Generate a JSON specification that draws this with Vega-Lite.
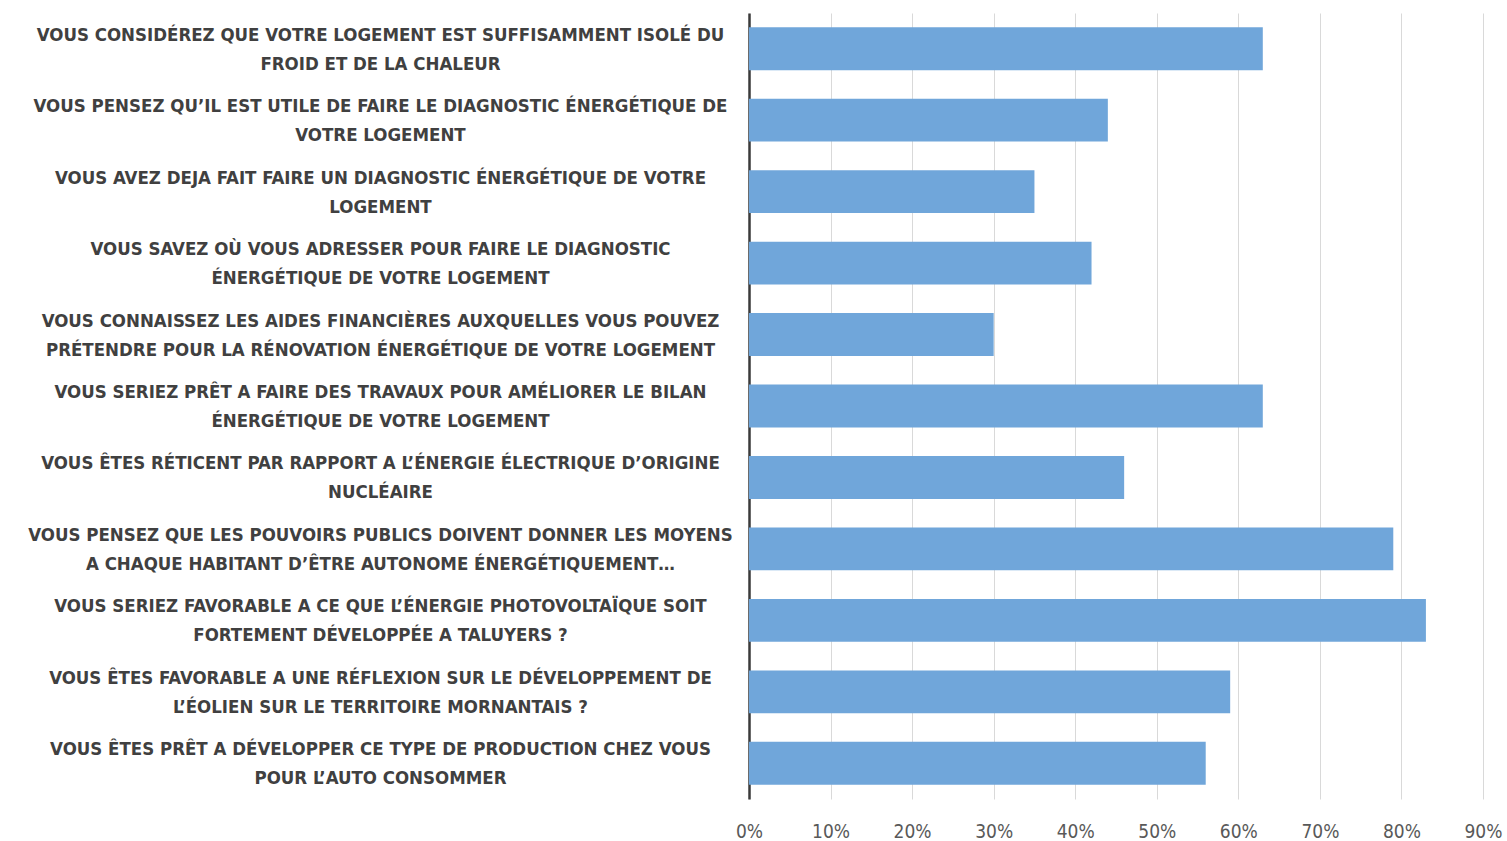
{
  "$schema": "https://vega.github.io/schema/vega-lite/v6.json",
  "autosize": {"type": "none"},
  "padding": {"left": 749, "top": 13, "right": 24, "bottom": 42},
  "width": 734,
  "height": 786,
  "background": "white",
  "config": {"view": {"stroke": null}},
  "data": {
    "values": [
      {"question": "VOUS CONSIDÉREZ QUE VOTRE LOGEMENT EST SUFFISAMMENT ISOLÉ DU|FROID ET DE LA CHALEUR", "pct": 0.63},
      {"question": "VOUS PENSEZ QU’IL EST UTILE DE FAIRE LE DIAGNOSTIC ÉNERGÉTIQUE DE|VOTRE LOGEMENT", "pct": 0.44},
      {"question": "VOUS AVEZ DEJA FAIT FAIRE UN DIAGNOSTIC ÉNERGÉTIQUE DE VOTRE|LOGEMENT", "pct": 0.35},
      {"question": "VOUS SAVEZ OÙ VOUS ADRESSER POUR FAIRE LE DIAGNOSTIC|ÉNERGÉTIQUE DE VOTRE LOGEMENT", "pct": 0.42},
      {"question": "VOUS CONNAISSEZ LES AIDES FINANCIÈRES AUXQUELLES VOUS POUVEZ|PRÉTENDRE POUR LA RÉNOVATION ÉNERGÉTIQUE DE VOTRE LOGEMENT", "pct": 0.30},
      {"question": "VOUS SERIEZ PRÊT A FAIRE DES TRAVAUX POUR AMÉLIORER LE BILAN|ÉNERGÉTIQUE DE VOTRE LOGEMENT", "pct": 0.63},
      {"question": "VOUS ÊTES RÉTICENT PAR RAPPORT A L’ÉNERGIE ÉLECTRIQUE D’ORIGINE|NUCLÉAIRE", "pct": 0.46},
      {"question": "VOUS PENSEZ QUE LES POUVOIRS PUBLICS DOIVENT DONNER LES MOYENS|A CHAQUE HABITANT D’ÊTRE AUTONOME ÉNERGÉTIQUEMENT…", "pct": 0.79},
      {"question": "VOUS SERIEZ FAVORABLE A CE QUE L’ÉNERGIE PHOTOVOLTAÏQUE SOIT|FORTEMENT DÉVELOPPÉE A TALUYERS ?", "pct": 0.83},
      {"question": "VOUS ÊTES FAVORABLE A UNE RÉFLEXION SUR LE DÉVELOPPEMENT DE|L’ÉOLIEN SUR LE TERRITOIRE MORNANTAIS ?", "pct": 0.59},
      {"question": "VOUS ÊTES PRÊT A DÉVELOPPER CE TYPE DE PRODUCTION CHEZ VOUS|POUR L’AUTO CONSOMMER", "pct": 0.56}
    ]
  },
  "mark": {"type": "bar", "color": "#70a6da"},
  "encoding": {
    "y": {
      "field": "question",
      "type": "nominal",
      "sort": null,
      "title": null,
      "scale": {"paddingInner": 0.4, "paddingOuter": 0.2},
      "axis": {
        "labelExpr": "split(datum.label, '|')",
        "labelAlign": "center",
        "labelPadding": 369,
        "labelOffset": -14,
        "labelLimit": 0,
        "labelFont": "DejaVu Sans Condensed",
        "labelFontSize": 18.5,
        "labelFontWeight": "bold",
        "labelColor": "#404040",
        "labelLineHeight": 29,
        "ticks": false,
        "domainColor": "#3a3a3a",
        "domainWidth": 2.5,
        "grid": false
      }
    },
    "x": {
      "field": "pct",
      "type": "quantitative",
      "title": null,
      "scale": {"domain": [0, 0.9], "nice": false},
      "axis": {
        "format": ".0%",
        "values": [0, 0.1, 0.2, 0.3, 0.4, 0.5, 0.6, 0.7, 0.8, 0.9],
        "domain": false,
        "ticks": false,
        "grid": true,
        "gridColor": "#d9d9d9",
        "gridWidth": 1,
        "labelFont": "DejaVu Sans Condensed",
        "labelFontSize": 19,
        "labelColor": "#595959",
        "labelPadding": 23,
        "labelFlush": false
      }
    }
  }
}
